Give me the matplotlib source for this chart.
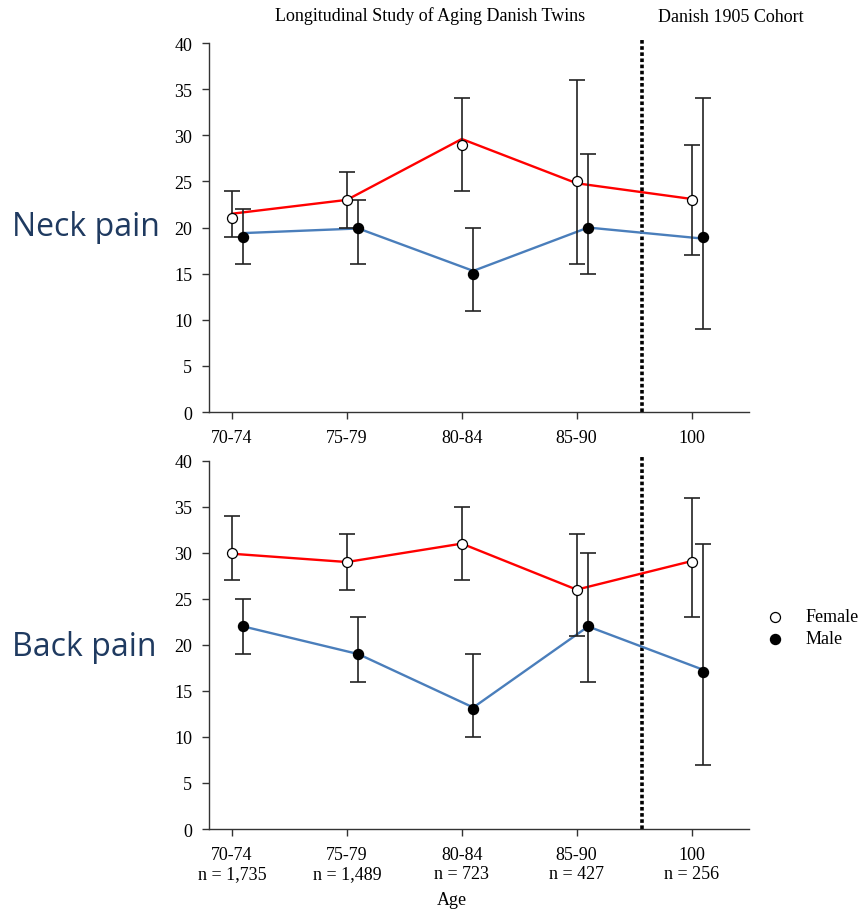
import matplotlib
matplotlib.use("Agg")
import matplotlib.pyplot as plt
import numpy as np

plt.rcParams['font.family'] = ['Liberation Serif', 'DejaVu Serif']

ages = ["70-74", "75-79", "80-84", "85-90", "100"]
n_labels = ["n = 1,735", "n = 1,489", "n = 723", "n = 427", "n = 256"]

# neck pain (%)
neck_f = [21, 23, 29, 25, 23]
neck_f_lo = [19, 20, 24, 16, 17]
neck_f_hi = [24, 26, 34, 36, 29]
neck_m = [19, 20, 15, 20, 19]
neck_m_lo = [16, 16, 11, 15, 9]
neck_m_hi = [22, 23, 20, 28, 34]
neck_f_line = [21.5, 23.0, 29.6, 24.8, 23.1]
neck_m_line = [19.4, 19.9, 15.3, 20.0, 18.8]

# back pain (%)
back_f = [30, 29, 31, 26, 29]
back_f_lo = [27, 26, 27, 21, 23]
back_f_hi = [34, 32, 35, 32, 36]
back_m = [22, 19, 13, 22, 17]
back_m_lo = [19, 16, 10, 16, 7]
back_m_hi = [25, 23, 19, 30, 31]
back_f_line = [29.9, 29.0, 31.0, 26.0, 29.1]
back_m_line = [22.0, 19.0, 13.2, 22.0, 17.3]

RED = "#ff0000"
BLUE = "#4a7ebb"
EBAR = "#222222"
LABEL_COL = "#1f3a60"
FS = 13


def draw_panel(ax, f, f_lo, f_hi, m, m_lo, m_hi, f_line, m_line, show_n):
    x = np.arange(len(ages))
    xf = x + 0.0
    xm = x + 0.1
    f = np.array(f); m = np.array(m)
    ax.plot(xf, f_line, color=RED, lw=1.7, zorder=2)
    ax.plot(xm, m_line, color=BLUE, lw=1.7, zorder=2)
    ax.errorbar(xf, f, yerr=[f - np.array(f_lo), np.array(f_hi) - f], fmt='none',
                ecolor=EBAR, elinewidth=1.2, capsize=5.5, capthick=1.2, zorder=3)
    ax.errorbar(xm, m, yerr=[m - np.array(m_lo), np.array(m_hi) - m], fmt='none',
                ecolor=EBAR, elinewidth=1.2, capsize=5.5, capthick=1.2, zorder=3)
    ax.plot(xf, f, 'o', ms=7.2, mfc='white', mec='black', mew=0.9, zorder=4)
    ax.plot(xm, m, 'o', ms=7.2, mfc='black', mec='black', zorder=4)

    ax.axvline(3.57, ymin=0, ymax=1.01, color='black', lw=2.6, ls=(0, (1, 0.7)),
               clip_on=False, zorder=1)

    ax.set_xlim(-0.2, 4.5)
    ax.set_ylim(0, 40)
    ax.set_yticks(range(0, 41, 5))
    ax.set_xticks(x)
    if show_n:
        ax.set_xticklabels([a + "\n" + n for a, n in zip(ages, n_labels)], linespacing=1.2)
    else:
        ax.set_xticklabels(ages)
    ax.spines['top'].set_visible(False)
    ax.spines['right'].set_visible(False)
    for s in ['left', 'bottom']:
        ax.spines[s].set_linewidth(1.0)
        ax.spines[s].set_color('#333333')
    ax.tick_params(axis='both', direction='out', length=5, width=1.0, labelsize=FS,
                   colors='#333333', labelcolor='black')
    ax.tick_params(axis='x', pad=7)
    ax.tick_params(axis='y', pad=7)


fig = plt.figure(figsize=(8.64, 9.12), dpi=100)
ax1 = fig.add_axes([0.2419, 0.5471, 0.625, 0.4046])
ax2 = fig.add_axes([0.2419, 0.0899, 0.625, 0.4038])

draw_panel(ax1, neck_f, neck_f_lo, neck_f_hi, neck_m, neck_m_lo, neck_m_hi,
           neck_f_line, neck_m_line, False)
draw_panel(ax2, back_f, back_f_lo, back_f_hi, back_m, back_m_lo, back_m_hi,
           back_f_line, back_m_line, True)

fig.text(430 / 864, 1 - 16 / 912, "Longitudinal Study of Aging Danish Twins",
         ha='center', va='center', fontsize=FS)
fig.text(731 / 864, 1 - 17 / 912, "Danish 1905 Cohort", ha='center', va='center', fontsize=FS)
fig.text(452 / 864, 1 - 901 / 912, "Age", ha='center', va='center', fontsize=FS)

fig.text(12 / 864, 1 - 228 / 912, "Neck pain", ha='left', va='center', fontsize=23,
         color=LABEL_COL, family=['Open Sans', 'DejaVu Sans'])
fig.text(12 / 864, 1 - 648 / 912, "Back pain", ha='left', va='center', fontsize=23,
         color=LABEL_COL, family=['Open Sans', 'DejaVu Sans'])

# legend
fig.lines.append(plt.Line2D([775 / 864], [1 - 618 / 912], marker='o', ms=7.2, mfc='white',
                            mec='black', mew=0.9, ls='none', transform=fig.transFigure))
fig.lines.append(plt.Line2D([775 / 864], [1 - 640 / 912], marker='o', ms=7.2, mfc='black',
                            mec='black', ls='none', transform=fig.transFigure))
fig.text(806 / 864, 1 - 618 / 912, "Female", ha='left', va='center', fontsize=FS)
fig.text(806 / 864, 1 - 640 / 912, "Male", ha='left', va='center', fontsize=FS)

fig.savefig("out.png", dpi=100)
